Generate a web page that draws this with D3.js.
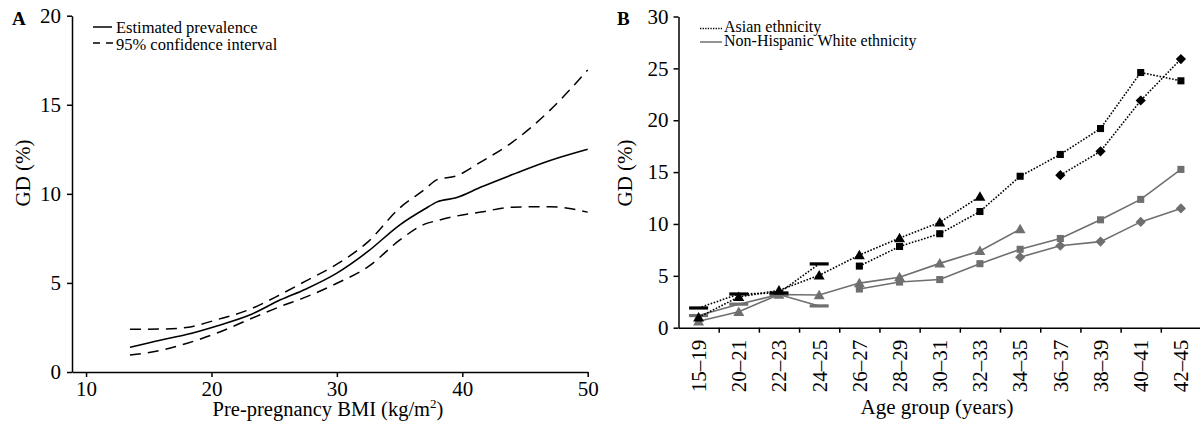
<!DOCTYPE html>
<html>
<head>
<meta charset="utf-8">
<script src="https://cdn.jsdelivr.net/npm/d3@7"></script>
<style>
  body { margin: 0; background: #fff; }
  text { font-family: "Liberation Serif", "Times New Roman", serif; fill: #000; }
</style>
</head>
<body>
<div id="chart"></div>
<script>
// ---- panel A data: pre-pregnancy BMI vs estimated GD prevalence
const bmi = [13.5, 16, 18, 20.5, 23, 25.5, 27.5, 30, 32.5, 35, 37, 38, 39.5, 41.5, 44, 47, 50];
const estimated = [1.39, 1.8, 2.1, 2.6, 3.18, 4.05, 4.65, 5.55, 6.78, 8.25, 9.15, 9.55, 9.78, 10.38, 11.08, 11.87, 12.5];
const upperCI = [2.4, 2.41, 2.5, 2.95, 3.5, 4.35, 5.1, 6.05, 7.32, 9.2, 10.25, 10.8, 11.0, 11.8, 12.9, 14.7, 16.95];
const lowerCI = [0.95, 1.22, 1.6, 2.2, 2.95, 3.68, 4.2, 4.98, 5.91, 7.4, 8.3, 8.5, 8.75, 8.98, 9.25, 9.28, 8.97];

// ---- panel B data: age group vs GD prevalence, by ethnicity
const ageGroups = ["15\u201319", "20\u201321", "22\u201323", "24\u201325", "26\u201327", "28\u201329", "30\u201331",
  "32\u201333", "34\u201335", "36\u201337", "38\u201339", "40\u201341", "42\u201345"];
const asianDash = [1.9, 3.25, 3.35, 6.15, null, null, null, null, null, null, null, null, null];
const asianTriangle = [1.0, 2.97, 3.6, 5.05, 7.0, 8.64, 10.15, 12.65, null, null, null, null, null];
const asianSquare = [null, null, null, null, 5.94, 7.83, 9.06, 11.2, 14.6, 16.7, 19.2, 24.6, 23.8];
const asianDiamond = [null, null, null, null, null, null, null, null, null, 14.7, 17.0, 21.9, 25.9];
const whiteDash = [1.17, 2.27, 3.2, 2.1, null, null, null, null, null, null, null, null, null];
const whiteTriangle = [0.62, 1.53, 3.2, 3.15, 4.3, 4.87, 6.2, 7.4, 9.5, null, null, null, null];
const whiteSquare = [null, null, null, null, 3.73, 4.4, 4.64, 6.17, 7.56, 8.6, 10.4, 12.37, 15.26];
const whiteDiamond = [null, null, null, null, null, null, null, null, 6.8, 7.9, 8.3, 10.2, 11.5];

const gray = "#6f6f6f";
const tickFont = 21;

const svg = d3.select("#chart")
  .append("svg")
  .attr("width", 1200)
  .attr("height", 421)
  .style("display", "block");

function styleAxis(g) {
  g.attr("font-family", "Liberation Serif, serif").attr("font-size", tickFont);
  g.selectAll("path, line").attr("stroke", "#000").attr("stroke-width", 1.5);
  g.selectAll("text").attr("fill", "#000");
}

// ================= Panel A =================
const xA = d3.scaleLinear().domain([8.88, 50]).range([72, 587.7]);
const yA = d3.scaleLinear().domain([0, 20]).range([372, 15.7]);

svg.append("g")
  .attr("transform", "translate(0,372)")
  .call(d3.axisBottom(xA).tickValues([10, 20, 30, 40, 50]).tickSize(5).tickSizeOuter(0).tickPadding(4))
  .call(styleAxis);

svg.append("g")
  .attr("transform", "translate(72,0)")
  .call(d3.axisLeft(yA).tickValues([0, 5, 10, 15, 20]).tickSize(5).tickSizeOuter(0).tickPadding(6))
  .call(styleAxis);

const lineA = vals => d3.line()
  .x((d, i) => xA(bmi[i]))
  .y(d => yA(d))
  .curve(d3.curveMonotoneX)(vals);

svg.append("path").attr("d", lineA(upperCI))
  .attr("fill", "none").attr("stroke", "#000").attr("stroke-width", 1.5).attr("stroke-dasharray", "11,7");
svg.append("path").attr("d", lineA(lowerCI))
  .attr("fill", "none").attr("stroke", "#000").attr("stroke-width", 1.5).attr("stroke-dasharray", "11,7");
svg.append("path").attr("d", lineA(estimated))
  .attr("fill", "none").attr("stroke", "#000").attr("stroke-width", 1.6);

svg.append("text").attr("x", 12).attr("y", 25)
  .attr("font-size", 19).attr("font-weight", "bold").text("A");

svg.append("text")
  .attr("transform", "translate(30,173) rotate(-90)")
  .attr("text-anchor", "middle").attr("font-size", 21).text("GD (%)");

const xTitleA = svg.append("text")
  .attr("x", 328).attr("y", 416)
  .attr("text-anchor", "middle").attr("font-size", 20.5);
xTitleA.append("tspan").text("Pre-pregnancy BMI (kg/m");
xTitleA.append("tspan").attr("font-size", 13).attr("dy", -8).text("2");
xTitleA.append("tspan").attr("dy", 8).text(")");

// legend A
const legA = svg.append("g").attr("font-size", 16.5);
legA.append("line").attr("x1", 93).attr("x2", 112).attr("y1", 27).attr("y2", 27)
  .attr("stroke", "#000").attr("stroke-width", 1.5);
legA.append("text").attr("x", 116).attr("y", 32.5).text("Estimated prevalence");
legA.append("line").attr("x1", 93).attr("x2", 113).attr("y1", 43).attr("y2", 43)
  .attr("stroke", "#000").attr("stroke-width", 1.5).attr("stroke-dasharray", "7,6");
legA.append("text").attr("x", 116).attr("y", 49.5).text("95% confidence interval");

// ================= Panel B =================
const xB = d3.scaleBand().domain(ageGroups).range([678.5, 1201]).paddingInner(0).paddingOuter(0);
const xBidx = d3.scaleLinear().domain([0, ageGroups.length]).range([678.5, 1201]);
const yB = d3.scaleLinear().domain([0, 30]).range([327.7, 16.5]);

// boundary ticks
svg.append("g")
  .attr("transform", "translate(0,327.7)")
  .call(d3.axisBottom(xBidx).tickValues(d3.range(1, ageGroups.length + 1)).tickFormat("").tickSize(5).tickSizeOuter(0))
  .call(styleAxis);

// rotated category labels
const xLabB = svg.append("g")
  .attr("transform", "translate(0,327.7)")
  .call(d3.axisBottom(xB).tickSize(0).tickSizeOuter(0))
  .call(styleAxis);
xLabB.select(".domain").remove();
xLabB.selectAll("text")
  .attr("transform", "rotate(-90)")
  .attr("x", -12).attr("y", 0).attr("dy", "0.35em")
  .style("text-anchor", "end");

svg.append("g")
  .attr("transform", "translate(678.5,0)")
  .call(d3.axisLeft(yB).tickValues([0, 5, 10, 15, 20, 25, 30]).tickSize(5).tickSizeOuter(0).tickPadding(5))
  .call(styleAxis);

const cx = i => xB(ageGroups[i]) + xB.bandwidth() / 2;
const lineB = d3.line()
  .defined(d => d != null)
  .x((d, i) => cx(i))
  .y(d => yB(d));

function drawSeries(vals, color, dotted, shape) {
  const path = svg.append("path").attr("d", lineB(vals))
    .attr("fill", "none").attr("stroke", color).attr("stroke-width", 1.6);
  if (dotted) path.attr("stroke-dasharray", "1.6,1.6");
  const pts = vals.map((v, i) => ({ v, i })).filter(d => d.v != null);
  const g = svg.append("g").attr("fill", color);
  if (shape === "dash") {
    g.selectAll("rect").data(pts).enter().append("rect")
      .attr("x", d => cx(d.i) - 9.5).attr("y", d => yB(d.v) - 1.6)
      .attr("width", 19).attr("height", 3.2);
  } else {
    const sym = shape === "triangle" ? d3.symbol().type(d3.symbolTriangle).size(52)
      : d3.symbol().type(d3.symbolSquare).size(shape === "diamond" ? 52 : 50);
    g.selectAll("path").data(pts).enter().append("path")
      .attr("d", sym)
      .attr("transform", d => `translate(${cx(d.i)},${yB(d.v) + (shape === "triangle" ? 1 : 0)})` +
        (shape === "diamond" ? " rotate(45)" : ""));
  }
}

drawSeries(whiteDash, gray, false, "dash");
drawSeries(whiteTriangle, gray, false, "triangle");
drawSeries(whiteSquare, gray, false, "square");
drawSeries(whiteDiamond, gray, false, "diamond");
drawSeries(asianDash, "#000", true, "dash");
drawSeries(asianTriangle, "#000", true, "triangle");
drawSeries(asianSquare, "#000", true, "square");
drawSeries(asianDiamond, "#000", true, "diamond");

svg.append("text").attr("x", 617).attr("y", 25)
  .attr("font-size", 19).attr("font-weight", "bold").text("B");

svg.append("text")
  .attr("transform", "translate(632,173) rotate(-90)")
  .attr("text-anchor", "middle").attr("font-size", 21).text("GD (%)");

svg.append("text")
  .attr("x", 937).attr("y", 414)
  .attr("text-anchor", "middle").attr("font-size", 21).text("Age group (years)");

// legend B
const legB = svg.append("g").attr("font-size", 16);
legB.append("line").attr("x1", 700).attr("x2", 722).attr("y1", 28.5).attr("y2", 28.5)
  .attr("stroke", "#000").attr("stroke-width", 1.3).attr("stroke-dasharray", "1.3,1.3");
legB.append("text").attr("x", 724).attr("y", 31.5).text("Asian ethnicity");
legB.append("line").attr("x1", 700).attr("x2", 722).attr("y1", 42).attr("y2", 42)
  .attr("stroke", gray).attr("stroke-width", 1.5);
legB.append("text").attr("x", 724).attr("y", 45.5).text("Non-Hispanic White ethnicity");
</script>
</body>
</html>
